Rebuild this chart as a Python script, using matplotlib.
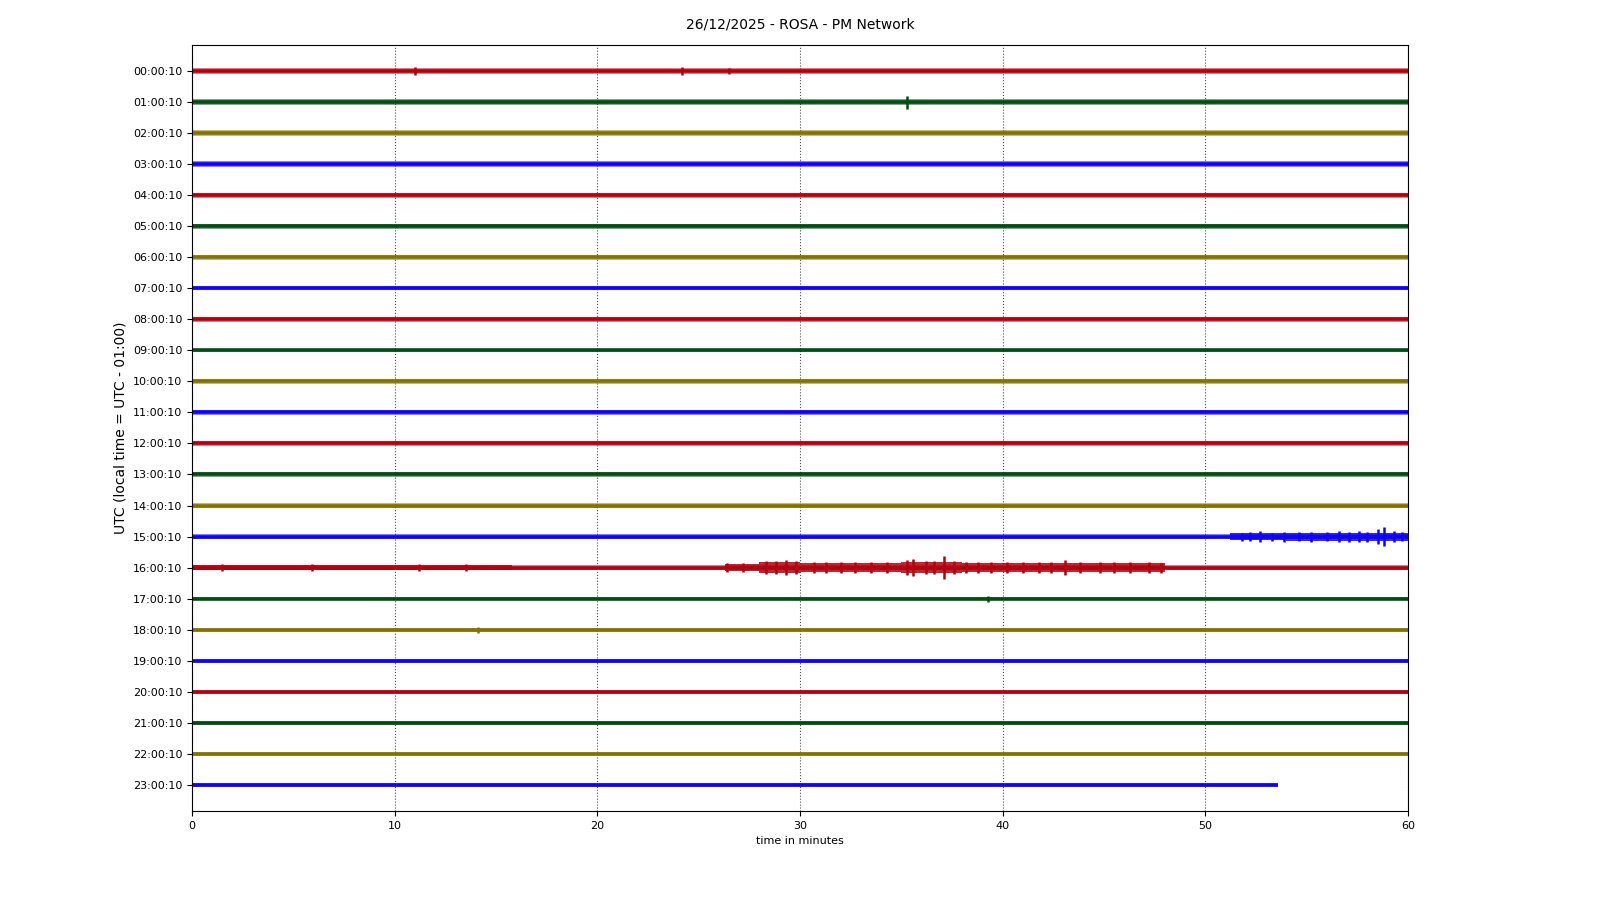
import numpy as np
import matplotlib.pyplot as plt

# one trace per hour, top to bottom
hour_labels = ['%02d:00:10' % h for h in range(24)]
trace_colors = ['#B2000F', '#004C12', '#847200', '#0E01FF']

# half-width of the background noise band of every trace (in trace units)
noise_amp = [0.10, 0.09, 0.09, 0.09, 0.08, 0.08, 0.08, 0.07,
             0.07, 0.06, 0.07, 0.07, 0.07, 0.07, 0.07, 0.07,
             0.07, 0.06, 0.06, 0.07, 0.06, 0.06, 0.07, 0.07]
trace_end = [60.0] * 23 + [53.6]

# noisier stretches: (hour, start minute, end minute, half-width)
burst_hour = [15, 15, 16, 16, 16, 16, 16, 16]
burst_start = [51.2, 54.0, 0.0, 26.3, 28.0, 30.0, 35.0, 38.0]
burst_stop = [54.0, 60.0, 15.8, 28.0, 30.0, 35.0, 38.0, 48.0]
burst_amp = [0.10, 0.13, 0.08, 0.11, 0.17, 0.14, 0.17, 0.14]

# single spikes: (hour, minute, half-height)
spike_hour = [0, 0, 0, 1,
              15, 15, 15, 15, 15, 15, 15, 15, 15, 15, 15, 15, 15, 15, 15, 15,
              16, 16, 16, 16, 16, 16, 16, 16, 16, 16, 16, 16, 16, 16, 16,
              16, 16, 16, 16, 16, 16, 16, 16, 16, 16, 16, 16, 16, 16, 16,
              16, 16, 16, 16, 16, 16,
              17, 18]
spike_min = [11.0, 24.2, 26.5, 35.3,
             51.8, 52.2, 52.7, 53.3, 53.9, 54.6, 55.2, 56.0, 56.6, 57.1,
             57.6, 58.0, 58.5, 58.8, 59.3, 59.7,
             1.5, 5.9, 11.2, 26.4, 27.2, 28.3, 28.8, 29.3, 29.8, 30.7, 31.3,
             32.0, 32.7, 33.5, 34.3, 35.3, 35.6, 36.2, 36.6, 37.1, 37.6,
             38.2, 38.8, 39.4, 40.2, 41.0, 41.8, 42.4, 43.1, 43.8, 44.8,
             45.5, 46.3, 47.2, 47.8, 13.5,
             39.3, 14.1]
spike_amp = [0.12, 0.12, 0.11, 0.21,
             0.13, 0.14, 0.17, 0.13, 0.16, 0.15, 0.16, 0.15, 0.17, 0.16,
             0.17, 0.16, 0.24, 0.30, 0.17, 0.15,
             0.12, 0.12, 0.11, 0.15, 0.14, 0.20, 0.21, 0.23, 0.20, 0.18, 0.18,
             0.19, 0.19, 0.17, 0.19, 0.25, 0.27, 0.20, 0.21, 0.37, 0.21,
             0.19, 0.18, 0.17, 0.18, 0.17, 0.19, 0.18, 0.24, 0.18, 0.17,
             0.17, 0.18, 0.17, 0.16, 0.11,
             0.10, 0.10]

fig = plt.figure(figsize=(16, 9), dpi=100)
ax = fig.add_subplot(111)
fig.subplots_adjust(left=0.12, right=0.88, top=0.95, bottom=0.099)

for i in range(24):
    y = -i
    c = trace_colors[i % 4]
    x = [0.0, trace_end[i]]
    ax.fill_between(x, y - noise_amp[i], y + noise_amp[i], color=c,
                    alpha=0.5, lw=0)
    ax.plot(x, [y, y], color=c, lw=2.6, solid_capstyle='butt')

for h, s, e, a in zip(burst_hour, burst_start, burst_stop, burst_amp):
    c = trace_colors[h % 4]
    ax.fill_between([s, e], -h - a, -h + a, color=c, alpha=0.85, lw=0)

for h, m, a in zip(spike_hour, spike_min, spike_amp):
    ax.vlines(m, -h - a, -h + a, color=trace_colors[h % 4], lw=1.8)

ax.set_xlim(0, 60)
ax.set_ylim(-23.84, 0.84)
ax.set_xticks(range(0, 61, 10))
ax.set_yticks([-i for i in range(24)])
ax.set_yticklabels(hour_labels)
ax.tick_params(labelsize=8)
ax.xaxis.grid(True, linestyle=':', color='0.3', lw=0.8)
ax.set_axisbelow(True)

ax.set_xlabel('time in minutes', fontsize=8)
ax.set_ylabel('UTC (local time = UTC - 01:00)', fontsize=10)
fig.suptitle('26/12/2025 - ROSA - PM Network', fontsize=10, y=0.973,
             va='center')

plt.savefig('out.png')
